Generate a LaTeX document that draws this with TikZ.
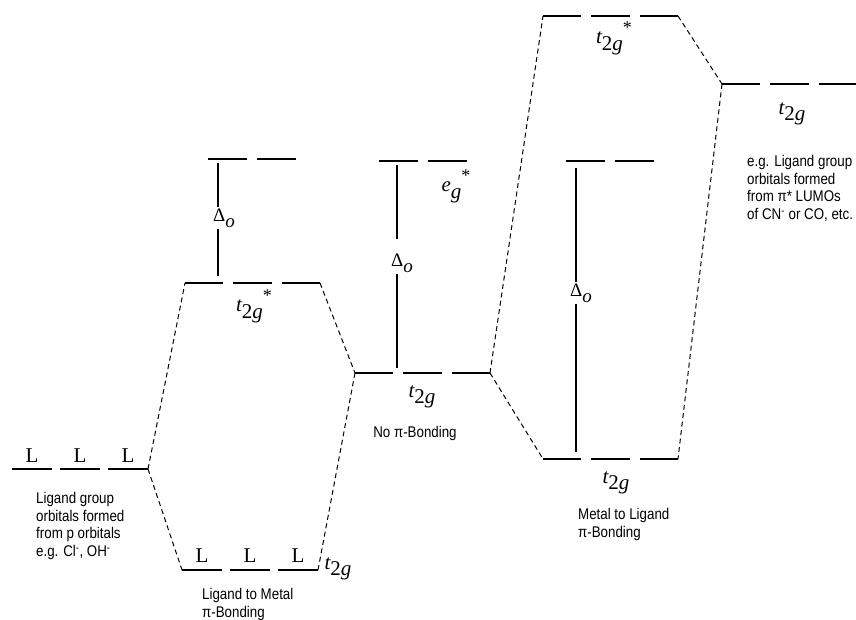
\documentclass[tikz,border=0pt]{standalone}
\usepackage{fontspec}
\setmainfont{Liberation Serif}
\newfontfamily\notefont[FakeStretch=0.86]{Liberation Sans}
\usetikzlibrary{positioning}
\newcommand{\ttwog}{{\itshape t}\raisebox{-0.3em}{2{\itshape g}}}
\newcommand{\starmark}{\raisebox{0.5em}{\fontsize{18}{18}\selectfont *}}
\newcommand{\egsym}{{\itshape e}\raisebox{-0.3em}{\itshape g}}
\newcommand{\deltao}{Δ\raisebox{-0.3em}{\itshape o}}

\begin{document}
\begin{tikzpicture}[
    x=1pt, y=-1pt,
    level/.style={line width=1.5pt, dash pattern=on 38.33pt off 10pt},
    ligand/.style={line width=1.5pt, dash pattern=on 40pt off 8pt},
    pair/.style={line width=1.5pt, dash pattern=on 39pt off 10pt},
    mix/.style={line width=1pt, dash pattern=on 5pt off 3.5pt},
    split/.style={line width=1.5pt},
    lab/.style={font=\fontsize{21}{24}\selectfont, inner sep=0pt},
    sym/.style={font=\fontsize{21}{24}\selectfont, inner sep=1pt},
    delta/.style={font=\fontsize{19}{22}\selectfont, inner sep=2pt},
    note/.style={font=\notefont\fontsize{15.5}{17.6}\selectfont, align=left, inner sep=0pt}
]
\useasboundingbox (0,0) rectangle (856,620);

% --- Level end points ---
\coordinate (lig-l) at (12,469);  \coordinate (lig-r) at (148,469);
\coordinate (lm-l)  at (182,570); \coordinate (lm-r)  at (318,570);
\coordinate (ts1-l) at (185,283); \coordinate (ts1-r) at (320,283);
\coordinate (eg1-l) at (208,159); \coordinate (eg1-r) at (297,159);
\coordinate (nb-l)  at (355,373); \coordinate (nb-r)  at (490,373);
\coordinate (eg2-l) at (379,161); \coordinate (eg2-r) at (467,161);
\coordinate (ts2-l) at (543,16);  \coordinate (ts2-r) at (678,16);
\coordinate (pi-l)  at (722,84);  \coordinate (pi-r)  at (856,84);
\coordinate (eg3-l) at (566,161); \coordinate (eg3-r) at (654,161);
\coordinate (ml-l)  at (543,459); \coordinate (ml-r)  at (678,459);

% --- Energy levels ---
\draw[ligand] (lig-l) -- (lig-r);
\draw[ligand] (lm-l) -- (lm-r);
\draw[level] (ts1-l) -- (ts1-r);
\draw[pair] (eg1-l) -- (eg1-r);
\draw[level] (nb-l) -- (nb-r);
\draw[pair] (eg2-l) -- (eg2-r);
\draw[level] (ts2-l) -- (ts2-r);
\draw[level] (pi-l) -- (pi-r);
\draw[pair] (eg3-l) -- (eg3-r);
\draw[level] (ml-l) -- (ml-r);

% --- Correlation lines ---
\draw[mix] (lig-r) -- (ts1-l);
\draw[mix] (lig-r) -- (lm-l);
\draw[mix] (ts1-r) -- (nb-l);
\draw[mix] (lm-r) -- (nb-l);
\draw[mix] (nb-r) -- (ts2-l);
\draw[mix] (nb-r) -- (ml-l);
\draw[mix] (ts2-r) -- (pi-l);
\draw[mix] (pi-l) -- (ml-r);

% --- Splittings ---
\node[delta] (d1) at (224,218) {\deltao};
\node[delta] (d2) at (402,263) {\deltao};
\node[delta] (d3) at (581,293) {\deltao};
\coordinate (s1) at (218,163); \coordinate (s1b) at (218,276);
\coordinate (s2) at (397,165); \coordinate (s2b) at (397,368);
\coordinate (s3) at (576,168); \coordinate (s3b) at (576,452);
\draw[split] (s1) -- (s1 |- d1.north);
\draw[split] (s1 |- d1.south) -- (s1b);
\draw[split, shorten >=13pt] (s2) -- (s2 |- d2.north);
\draw[split] (s2 |- d2.south) -- (s2b);
\draw[split] (s3) -- (s3 |- d3.north);
\draw[split] (s3 |- d3.south) -- (s3b);

% --- Ligand orbitals ---
\node[lab] (L1) at (32,456) {L};
\node[lab] (L2) at (80,456) {L};
\node[lab] (L3) at (128,456) {L};
\node[lab] (L4) at (202,556) {L};
\node[lab] (L5) at (250,556) {L};
\node[lab] (L6) at (298,556) {L};

% --- Symmetry labels ---
\node[sym] (t-lm)  at (338,569) {\ttwog};
\node[sym] (t-ts1) at (254,306) {\ttwog\starmark};
\node[sym] (e-nb)  at (456,186) {\egsym\starmark};
\node[sym] (t-nb)  at (422,397) {\ttwog};
\node[sym] (t-ts2) at (614,38)  {\ttwog\starmark};
\node[sym] (t-pi)  at (792,114) {\ttwog};
\node[sym] (t-ml)  at (616,483) {\ttwog};

% --- Notes ---
\node[note, anchor=north west] (n-lig) at (36,492)
    {Ligand group\\orbitals formed\\from p orbitals\\e.g. Cl\textsuperscript{-}, OH\textsuperscript{-}};
\node[note, anchor=north west] (n-lm) at (202,588) {Ligand to Metal\\π-Bonding};
\node[note] (n-nb) at (415,433) {No π-Bonding};
\node[note, anchor=north west] (n-ml) at (578,508) {Metal to Ligand\\π-Bonding};
\node[note, anchor=north west] (n-pi) at (747,155)
    {e.g. Ligand group\\orbitals formed\\from π* LUMOs\\of CN\textsuperscript{-} or CO, etc.};

\end{tikzpicture}
\end{document}
